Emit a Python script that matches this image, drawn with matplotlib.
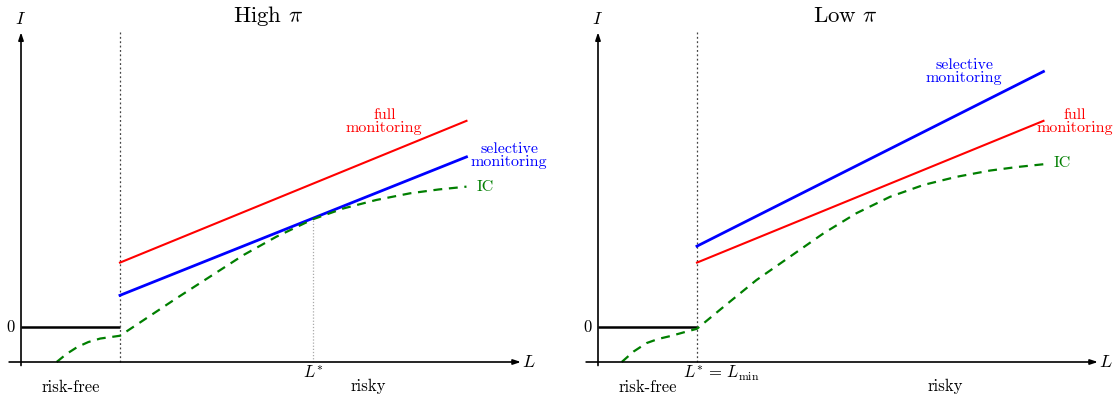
import numpy as np
import matplotlib
matplotlib.use("Agg")
import matplotlib.pyplot as plt

plt.rcParams['font.family'] = 'serif'
plt.rcParams['font.serif'] = ['cmr10', 'DejaVu Serif']
plt.rcParams['mathtext.fontset'] = 'cm'
plt.rcParams['axes.unicode_minus'] = False

# threshold between risk-free and risky lending, and axis extents
L_min = 1.0
x_end = 5.05
y_top = 8.42
y_base = -1.0

# ---- High pi panel ----
hi_full_x = [1.0, 4.5]
hi_full_y = [1.84, 5.89]
hi_sel_x = [1.0, 4.5]
hi_sel_y = [0.905, 4.86]
hi_ic_x = [0.36, 0.46, 0.57, 0.68, 0.80, 0.90, 1.0,
           1.24, 1.57, 1.91, 2.25, 2.58, 2.95, 3.26, 3.59, 3.93, 4.22, 4.5]
hi_ic_y = [-1.0, -0.77, -0.57, -0.43, -0.33, -0.29, -0.25,
           0.20, 0.82, 1.44, 2.06, 2.58, 3.08, 3.39, 3.63, 3.82, 3.93, 4.01]
hi_Lstar = 2.95
hi_Lstar_I = 3.08

# ---- Low pi panel ----
lo_full_x = [1.0, 4.5]
lo_full_y = [1.84, 5.89]
lo_sel_x = [1.0, 4.5]
lo_sel_y = [2.31, 7.30]
lo_ic_x = [0.24, 0.36, 0.49, 0.61, 0.73, 0.87, 1.0,
           1.27, 1.60, 1.94, 2.28, 2.61, 2.95, 3.29, 3.62, 3.96, 4.23, 4.5]
lo_ic_y = [-1.0, -0.70, -0.46, -0.34, -0.26, -0.15, -0.05,
           0.58, 1.34, 2.01, 2.68, 3.25, 3.72, 4.06, 4.29, 4.47, 4.57, 4.65]

RED = '#ff0000'
BLUE = '#0000ff'
GREEN = '#007f00'

fig = plt.figure(figsize=(11.16, 4.0), dpi=100)
ax1 = fig.add_axes([0.00108, 0.0075, 0.479, 0.98])
ax2 = fig.add_axes([0.5181, 0.0075, 0.479, 0.98])


def draw_axes(ax):
    ax.set_xlim(-0.2, 5.2)
    ax.set_ylim(-2.0, 9.2)
    ax.axis('off')
    arrow = dict(arrowstyle='-|>,head_length=0.45,head_width=0.15', lw=1.2,
                 color='black', shrinkA=0, shrinkB=0)
    ax.annotate('', xy=(x_end, y_base), xytext=(-0.12, y_base), arrowprops=arrow)
    ax.annotate('', xy=(0, y_top), xytext=(0, y_base - 0.1), arrowprops=arrow)
    ax.text(5.13, y_base, '$L$', fontsize=13, ha='center', va='center')
    ax.text(0, y_top + 0.15, '$I$', fontsize=13, ha='center', va='bottom')
    ax.text(-0.05, 0, '$0$', fontsize=12, ha='right', va='center')
    ax.plot([0, L_min], [0, 0], color='black', lw=1.8, solid_capstyle='butt')
    ax.plot([L_min, L_min], [y_base, y_top], color='#444444', lw=0.9,
            linestyle=(0, (1.5, 2)))
    ax.text(0.5, -1.72, 'risk-free', fontsize=12, ha='center', va='center')
    ax.text(3.51, -1.69, 'risky', fontsize=12, ha='center', va='center')


draw_axes(ax1)
ax1.plot(hi_full_x, hi_full_y, color=RED, lw=1.5)
ax1.plot(hi_sel_x, hi_sel_y, color=BLUE, lw=2.0)
ax1.plot(hi_ic_x, hi_ic_y, color=GREEN, lw=1.6, linestyle=(0, (4, 3)))
ax1.plot([hi_Lstar, hi_Lstar], [y_base, hi_Lstar_I], color='#aaaaaa', lw=0.9,
         linestyle=(0, (1, 1.5)))
ax1.text(hi_Lstar, -1.3, '$L^{*}$', fontsize=12, ha='center', va='center')
ax1.text(3.67, 5.87, 'full\nmonitoring', color=RED, fontsize=11.5,
         ha='center', va='center', linespacing=0.85)
ax1.text(4.93, 4.9, 'selective\nmonitoring', color=BLUE, fontsize=11.5,
         ha='center', va='center', linespacing=0.85)
ax1.text(4.6, 4.0, 'IC', color=GREEN, fontsize=11.5, ha='left', va='center')
ax1.text(2.5, 8.88, r'High $\pi$', fontsize=16.5, ha='center', va='center')

draw_axes(ax2)
ax2.plot(lo_full_x, lo_full_y, color=RED, lw=1.5)
ax2.plot(lo_sel_x, lo_sel_y, color=BLUE, lw=2.0)
ax2.plot(lo_ic_x, lo_ic_y, color=GREEN, lw=1.6, linestyle=(0, (4, 3)))
ax2.text(1.25, -1.32, r'$L^{*}\,=\,L_{\min}$', fontsize=12, ha='center', va='center')
ax2.text(3.70, 7.3, 'selective\nmonitoring', color=BLUE, fontsize=11.5,
         ha='center', va='center', linespacing=0.85)
ax2.text(4.82, 5.87, 'full\nmonitoring', color=RED, fontsize=11.5,
         ha='center', va='center', linespacing=0.85)
ax2.text(4.6, 4.68, 'IC', color=GREEN, fontsize=11.5, ha='left', va='center')
ax2.text(2.5, 8.88, r'Low $\pi$', fontsize=16.5, ha='center', va='center')

fig.savefig('out.png', dpi=100)
